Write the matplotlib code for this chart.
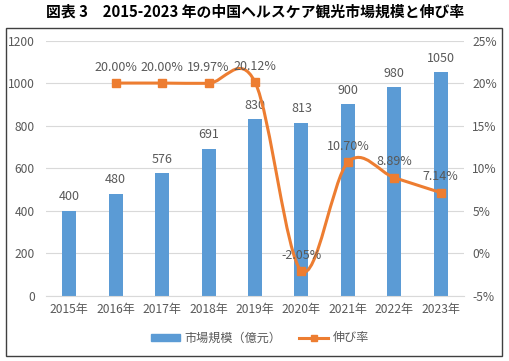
import matplotlib
matplotlib.use("Agg")
import matplotlib.pyplot as plt
from matplotlib.path import Path
from matplotlib.patches import PathPatch, Rectangle
from matplotlib.lines import Line2D
from matplotlib.ticker import FuncFormatter
import numpy as np

plt.rcParams['font.family'] = ['Noto Sans CJK JP', 'DejaVu Sans']

years = ["2015年", "2016年", "2017年", "2018年", "2019年", "2020年", "2021年", "2022年", "2023年"]
market = [400, 480, 576, 691, 830, 813, 900, 980, 1050]
growth_years_idx = [1, 2, 3, 4, 5, 6, 7, 8]
growth = [20.00, 20.00, 19.97, 20.12, -2.05, 10.70, 8.89, 7.14]
title = "図表 3　2015-2023 年の中国ヘルスケア観光市場規模と伸び率"
bar_label = "市場規模（億元）"
line_label = "伸び率"

BLUE = "#5B9BD5"
ORANGE = "#ED7D31"
TXT = "#595959"
GRID = "#D9D9D9"

W, H = 509, 361
fig = plt.figure(figsize=(W / 100, H / 100), dpi=100)

# outer frame
fig.patches.append(Rectangle((6 / W, 1 - 356 / H), (502 - 6) / W, (356 - 28) / H,
                             transform=fig.transFigure, fill=False,
                             edgecolor="#404040", linewidth=1.0))

fig.text(255 / W, 1 - 12 / H, title, ha="center", va="center",
         fontsize=10.7, fontweight="bold", color="black")

left, right = 46 / W, 464 / W
top, bottom = 1 - 40.5 / H, 1 - 296 / H
ax = fig.add_axes([left, bottom, right - left, top - bottom])
ax2 = ax.twinx()

x = np.arange(len(years))
ax.bar(x, market, width=0.3, color=BLUE, zorder=2)
for xi, v in zip(x, market):
    ax.text(xi, v + 35, f"{v}", ha="center", va="bottom", fontsize=9, color=TXT)

ax.set_xlim(-0.5, len(years) - 0.5)
ax.set_ylim(0, 1200)
ax.set_yticks(range(0, 1201, 200))
ax.set_xticks(x)
ax.set_xticklabels(years)
ax.grid(axis="y", color=GRID, linewidth=0.8, zorder=0)
ax.set_axisbelow(True)
for s in ax.spines.values():
    s.set_visible(False)
for s in ax2.spines.values():
    s.set_visible(False)
ax.spines["bottom"].set_visible(True)
ax.spines["bottom"].set_color(GRID)
ax.tick_params(axis="both", length=0, labelsize=8.7, colors=TXT)
ax.tick_params(axis="y", pad=8)
ax.tick_params(axis="x", pad=5)

ax2.set_ylim(-5, 25)
ax2.set_yticks(range(-5, 26, 5))
ax2.yaxis.set_major_formatter(FuncFormatter(lambda v, p: f"{int(v)}%"))
ax2.tick_params(axis="y", length=0, labelsize=8.7, colors=TXT, pad=6)

# smoothed line (Catmull-Rom -> Bezier)
gx = np.array(growth_years_idx, dtype=float)
gy = np.array(growth, dtype=float)
pts = np.column_stack([gx, gy])
verts = [tuple(pts[0])]
codes = [Path.MOVETO]
n = len(pts)
for i in range(n - 1):
    p0 = pts[i - 1] if i > 0 else pts[i]
    p1 = pts[i]
    p2 = pts[i + 1]
    p3 = pts[i + 2] if i + 2 < n else pts[i + 1]
    c1 = p1 + (p2 - p0) / 6
    c2 = p2 - (p3 - p1) / 6
    verts += [tuple(c1), tuple(c2), tuple(p2)]
    codes += [Path.CURVE4] * 3
ax2.add_patch(PathPatch(Path(verts, codes), fill=False, edgecolor=ORANGE,
                        linewidth=2.2, zorder=3, capstyle="round"))
ax2.plot(gx, gy, linestyle="none", marker="s", markersize=5.5,
         color=ORANGE, zorder=4)
for xi, v in zip(gx, gy):
    ax2.text(xi, v + 1.1, f"{v:.2f}%", ha="center", va="bottom", fontsize=9, color=TXT, zorder=5)

handles = [Rectangle((0, 0), 1, 1, color=BLUE),
           Line2D([0], [0], color=ORANGE, linewidth=2.2, marker="s", markersize=5)]
fig.legend(handles, [bar_label, line_label], loc="center",
           bbox_to_anchor=(260 / W, 1 - 338 / H), ncol=2, frameon=False,
           fontsize=8.7, labelcolor=TXT, handlelength=2.4, columnspacing=1.5,
           handleheight=0.55, handletextpad=0.35)

fig.savefig("out.png", dpi=100)
